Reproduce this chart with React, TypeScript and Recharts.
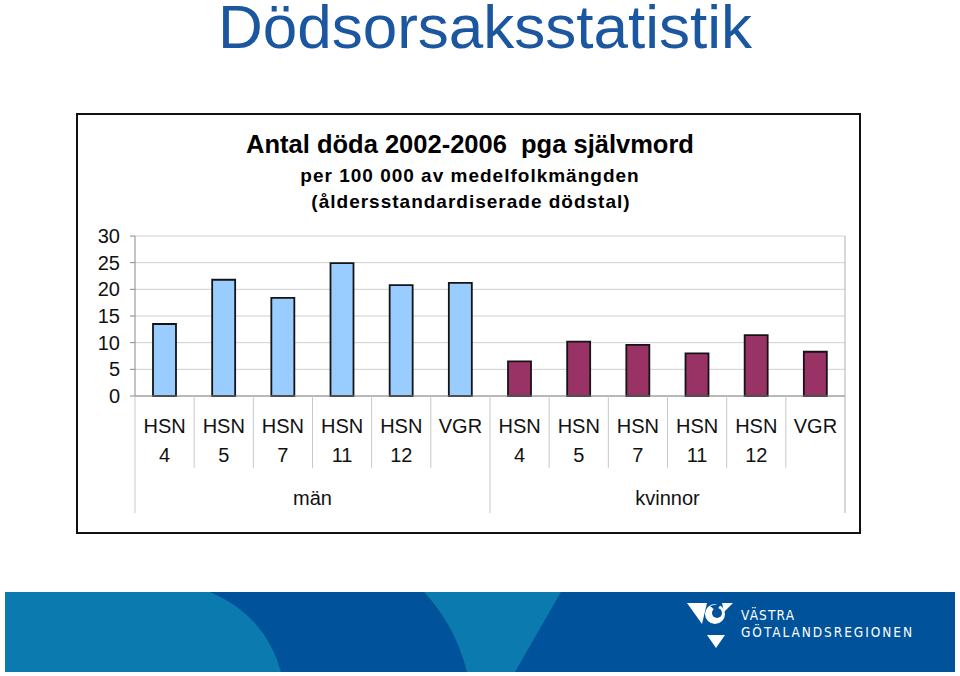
import React from "react";
import { BarChart, Bar, XAxis, YAxis, CartesianGrid, Cell } from "recharts";

const regions = ["HSN 4", "HSN 5", "HSN 7", "HSN 11", "HSN 12", "VGR"];
const groups = ["män", "kvinnor"];
const menValues = [13.5, 21.8, 18.4, 24.9, 20.8, 21.2];
const womenValues = [6.5, 10.2, 9.6, 8.0, 11.4, 8.3];
const yTicks = [0, 5, 10, 15, 20, 25, 30];

const groupValues = [menValues, womenValues];
const groupColors = ["#99CCFF", "#993366"];

const data = groups.flatMap((g, gi) =>
  regions.map((r, i) => ({ key: `${g}-${r}`, region: r, group: g, gi, value: groupValues[gi][i] }))
);

const FONT = "'Liberation Sans', Arial, Helvetica, sans-serif";
const LOGO_FONT = "'DejaVu Sans Condensed', 'Liberation Sans Narrow', sans-serif";
const W = 960;
const H = 676;
const M = { top: 236, right: 115, bottom: 163, left: 95 };
const Y_W = 40;
const X_H = 117;
const PLOT_W = W - M.left - M.right - Y_W;
const PLOT_H = H - M.top - M.bottom - X_H;
const BAND = PLOT_W / data.length;

function CategoryTick(props: any) {
  const { x, y, payload } = props;
  const idx = payload.index;
  const d = data[idx];
  const [l1, l2] = d.region.split(" ");
  const first = idx % regions.length === 0;
  const last = idx === data.length - 1;
  const left = x - BAND / 2;
  const txt = { fontFamily: FONT, fontSize: 20, fill: "#111", textAnchor: "middle" as const };
  return (
    <g>
      <line x1={left} x2={left} y1={y} y2={y + (first ? X_H : 72)} stroke="#c8c8c8" />
      {last && <line x1={x + BAND / 2} x2={x + BAND / 2} y1={y - PLOT_H} y2={y + X_H} stroke="#b0b0b0" />}
      <text x={x} y={y + 37} {...txt}>{l1}</text>
      {l2 && <text x={x} y={y + 66} {...txt}>{l2}</text>}
      {first && <text x={left + (BAND * regions.length) / 2} y={y + 109} {...txt}>{d.group}</text>}
    </g>
  );
}

function Backdrop() {
  return (
    <svg width={W} height={H} style={{ position: "absolute", left: 0, top: 0 }}>
      <text x={485} y={48} textAnchor="middle" fontFamily={FONT} fontSize={62} fill="#1B56A0">
        Dödsorsaksstatistik
      </text>
      <rect x={77} y={114} width={783} height={419} fill="none" stroke="#111" strokeWidth={2} />
      <text x={470} y={153} textAnchor="middle" fontFamily={FONT} fontSize={25.5} fontWeight="bold" fill="#000" style={{ whiteSpace: "pre" }}>
        Antal döda 2002-2006  pga självmord
      </text>
      <text x={470} y={182} textAnchor="middle" fontFamily={FONT} fontSize={19} fontWeight="bold" letterSpacing={1} fill="#000">
        per 100 000 av medelfolkmängden
      </text>
      <text x={471} y={208} textAnchor="middle" fontFamily={FONT} fontSize={19} fontWeight="bold" letterSpacing={1} fill="#000">
        (åldersstandardiserade dödstal)
      </text>

      {/* banner */}
      <rect x={5} y={592} width={950} height={80} fill="#0A7AAF" />
      <path d="M210,592 Q265,615 281,672 L467,672 Q455,625 424,592 Z" fill="#00529B" />
      <path d="M561,592 L955,592 L955,672 L515,672 Z" fill="#00529B" />
      <g fill="#fff">
        <polygon points="687,603 707,603 702,624" />
        <circle cx={715} cy={614} r={10} />
        <circle cx={717} cy={613} r={5} fill="#00529B" />
        <polygon points="710,606 722,603 716,611" fill="#00529B" />
        <polygon points="722,603 733,603 724,612" />
        <polygon points="707,635 725,635 716,648" />
        <text x={741} y={620} fontFamily={LOGO_FONT} fontSize={13.5} textLength={53} lengthAdjust="spacing">
          VÄSTRA
        </text>
        <text x={741} y={637} fontFamily={LOGO_FONT} fontSize={13.5} textLength={171} lengthAdjust="spacing">
          GÖTALANDSREGIONEN
        </text>
      </g>
    </svg>
  );
}

export default function App() {
  return (
    <div style={{ position: "absolute", left: 0, top: 0, width: W, height: H, background: "#fff", overflow: "hidden" }}>
      <Backdrop />
      <div style={{ position: "absolute", left: 0, top: 0 }}>
        <BarChart width={W} height={H} data={data} margin={M}>
          <CartesianGrid vertical={false} stroke="#cfcfcf" />
          <YAxis
            domain={[0, 30]}
            ticks={yTicks}
            width={Y_W}
            interval={0}
            axisLine={{ stroke: "#8a8a8a" }}
            tickLine={{ stroke: "#8a8a8a" }}
            tickSize={5}
            tickMargin={10}
            tick={{ fontFamily: FONT, fontSize: 20, fill: "#111" }}
          />
          <XAxis
            dataKey="key"
            height={X_H}
            interval={0}
            axisLine={{ stroke: "#8a8a8a" }}
            tickLine={false}
            tickSize={0}
            tickMargin={0}
            tick={<CategoryTick />}
          />
          <Bar dataKey="value" barSize={23} stroke="#141414" strokeWidth={1.8} isAnimationActive={false}>
            {data.map((d) => (
              <Cell key={d.key} fill={groupColors[d.gi]} />
            ))}
          </Bar>
        </BarChart>
      </div>
    </div>
  );
}
